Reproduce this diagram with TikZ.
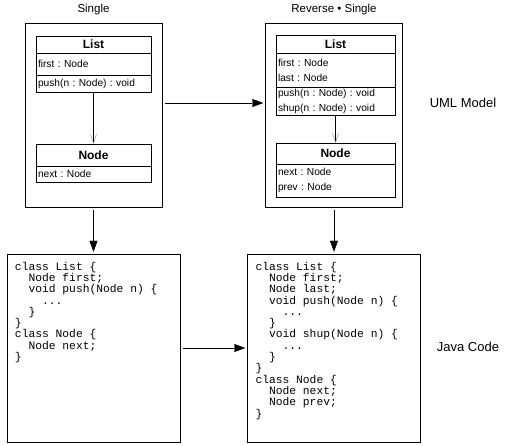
\documentclass[tikz,border=0pt]{standalone}
\usepackage{fontspec}
\setmainfont{Liberation Sans}
\setmonofont{Liberation Mono}
\usetikzlibrary{positioning,arrows.meta}
\frenchspacing
\newcommand{\codeind}{\hspace*{1.2em}}

\begin{document}
\begin{tikzpicture}[x=1pt, y=-1pt,
    umlframe/.style={draw, minimum width=137pt, minimum height=184pt, inner sep=0pt},
    cbox/.style={draw, minimum width=173pt, minimum height=188pt, inner sep=0pt},
    chead/.style={draw, font=\bfseries\fontsize{12}{14}\selectfont, inner sep=0pt, outer sep=0pt},
    cpart/.style={draw, font=\fontsize{10.2}{15}\selectfont, align=left, inner xsep=2pt, inner ysep=0pt, outer sep=0pt},
    src/.style={font=\ttfamily\fontsize{11.3}{11.3}\selectfont, align=left, inner sep=0pt, anchor=north west},
    lbl/.style={font=\fontsize{13}{15}\selectfont},
    ttl/.style={font=\fontsize{11.5}{13}\selectfont},
    assoc/.style={-{Straight Barb[length=9pt, width=6pt, color=gray]}},
    flow/.style={-{Triangle[length=11pt, width=8pt]}, shorten <=3pt, shorten >=2pt}]
\useasboundingbox (0, 0) rectangle (507, 446);
% titles
\node[ttl] (tSgl) at (93.5, 10) {Single};
\node[ttl] (tRev) at (334, 10) {Reverse • Single};
% frames
\node[umlframe] (sgl) at (93.5, 115) {};
\node[umlframe] (rev) at (334, 115) {};
% classes, single
\node[chead, minimum width=115pt, minimum height=17pt, anchor=north] (sList) at (93.5, 36) {List};
    \node[cpart, text width=111pt, minimum height=22pt, below=0pt of sList] (sListA) {first : Node};
    \node[cpart, text width=111pt, minimum height=17pt, below=0pt of sListA] (sListO) {push(n : Node) : void};
\node[chead, minimum width=115pt, minimum height=22pt, anchor=north] (sNode) at (93.5, 144) {Node};
    \node[cpart, text width=111pt, minimum height=16pt, below=0pt of sNode] (sNodeA) {next : Node};
% classes, reverse
\node[chead, minimum width=119pt, minimum height=18pt, anchor=north] (rList) at (335.5, 35) {List};
    \node[cpart, text width=115pt, minimum height=34pt, below=0pt of rList] (rListA) {first : Node\\last : Node};
    \node[cpart, text width=115pt, minimum height=28pt, below=0pt of rListA] (rListO) {push(n : Node) : void\\shup(n : Node) : void};
\node[chead, minimum width=119pt, minimum height=21pt, anchor=north] (rNode) at (335.5, 143) {Node};
    \node[cpart, text width=115pt, minimum height=33pt, below=0pt of rNode] (rNodeA) {next : Node\\prev : Node};
% side labels
\node[lbl] (uml) at (463, 103) {UML Model};
\node[lbl] (java) at (468, 347) {Java Code};
% code
\node[cbox] (sCode) at (93.5, 348) {};
\node[cbox] (rCode) at (334, 348) {};
\node[src] (sSrc) at ([xshift=8pt, yshift=-8pt]sCode.north west) {class List \{\\
\codeind Node first;\\
\codeind void push(Node n) \{\\
\codeind\codeind ...\\
\codeind \}\\
\}\\
class Node \{\\
\codeind Node next;\\
\}};
\node[src] (rSrc) at ([xshift=8pt, yshift=-8pt]rCode.north west) {class List \{\\
\codeind Node first;\\
\codeind Node last;\\
\codeind void push(Node n) \{\\
\codeind\codeind ...\\
\codeind \}\\
\codeind void shup(Node n) \{\\
\codeind\codeind ...\\
\codeind \}\\
\}\\
class Node \{\\
\codeind Node next;\\
\codeind Node prev;\\
\}};
% arrows
\draw[assoc] (sListO) -- (sNode);
\draw[assoc] (rListO) -- (rNode);
\draw[flow] (sgl.east |- uml) -- (rev.west |- uml);
\draw[flow] (sgl) -- (sCode);
\draw[flow] (rev) -- (rCode);
\draw[flow] (sCode) -- (rCode);
\end{tikzpicture}
\end{document}
